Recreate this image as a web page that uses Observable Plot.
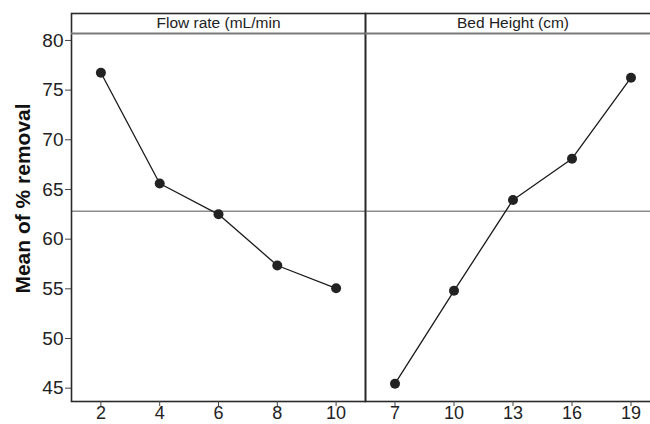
<!DOCTYPE html>
<html>
<head>
<meta charset="utf-8">
<script src="https://cdn.jsdelivr.net/npm/d3@7"></script>
<script src="https://cdn.jsdelivr.net/npm/@observablehq/plot@0.6"></script>
<style>
  html, body { margin: 0; padding: 0; background: #fff; }
  #chart { position: relative; width: 650px; height: 424px; overflow: hidden; }
  #chart svg { position: absolute; top: 0; overflow: visible; }
</style>
</head>
<body>
<div id="chart"></div>
<script>
// ---- data ----
const flowRate = [2, 4, 6, 8, 10];
const flowMean = [76.75, 65.6, 62.5, 57.35, 55.05];
const bedHeight = [7, 10, 13, 16, 19];
const bedMean = [45.45, 54.8, 63.95, 68.1, 76.25];
const overallMean = 62.8;
const yTicks = [45, 50, 55, 60, 65, 70, 75, 80];
const panelTitles = ["Flow rate (mL/min", "Bed Height (cm)"];
const yLabel = "Mean of % removal";

// ---- layout ----
const yDomain = [43.66, 80.7];
const H = 424, MT = 33, MB = 23;
const font = "'Liberation Sans', Arial, Helvetica, sans-serif";

function panel({xs, ys, xDomain, title, width, marginLeft, showY}) {
  const data = xs.map((x, i) => ({x, y: ys[i]}));
  const marks = [
    Plot.ruleY([overallMean], {stroke: "#8c8c8c", strokeWidth: 1.5}),
    Plot.frame({stroke: "#2a2a2a", strokeWidth: 1.6, insetTop: -(MT - 13)}),
    Plot.ruleY([yDomain[1]], {stroke: "#7a7a7a", strokeWidth: 1.8}),
    Plot.text([title], {frameAnchor: "top", lineAnchor: "middle", dy: -10, fontSize: 15.5, fill: "#222"}),
    Plot.axisX({ticks: xs, tickSize: 5, tickPadding: 0, fontSize: 18, stroke: "#444", fill: "#222", label: null}),
    Plot.line(data, {x: "x", y: "y", stroke: "#1a1a1a", strokeWidth: 1.3}),
    Plot.dot(data, {x: "x", y: "y", r: 5, fill: "#222", stroke: "none"})
  ];
  if (showY) {
    marks.push(Plot.axisY({ticks: yTicks, tickSize: 6, tickPadding: 2, fontSize: 19, stroke: "#444", fill: "#222", label: null}));
    marks.push(Plot.text([yLabel], {frameAnchor: "left", textAnchor: "middle", lineAnchor: "middle", rotate: -90, dx: -48, dy: -19,
      fontSize: 21, fontWeight: "bold", fill: "#111"}));
  } else {
    marks.push(Plot.axisY({ticks: [], label: null}));
  }
  return Plot.plot({
    width, height: H,
    marginLeft, marginRight: 0, marginTop: MT, marginBottom: MB,
    style: {fontFamily: font, fontSize: "18px", color: "#222", background: "transparent", overflow: "visible"},
    x: {domain: xDomain},
    y: {domain: yDomain},
    marks
  });
}

const left = panel({xs: flowRate, ys: flowMean, xDomain: [1, 11], title: panelTitles[0],
  width: 365, marginLeft: 71, showY: true});
const right = panel({xs: bedHeight, ys: bedMean, xDomain: [5.5, 20.5], title: panelTitles[1],
  width: 295, marginLeft: 0, showY: false});
left.style.left = "0px";
right.style.left = "365px";
const chart = document.getElementById("chart");
chart.appendChild(left);
chart.appendChild(right);
</script>
</body>
</html>
